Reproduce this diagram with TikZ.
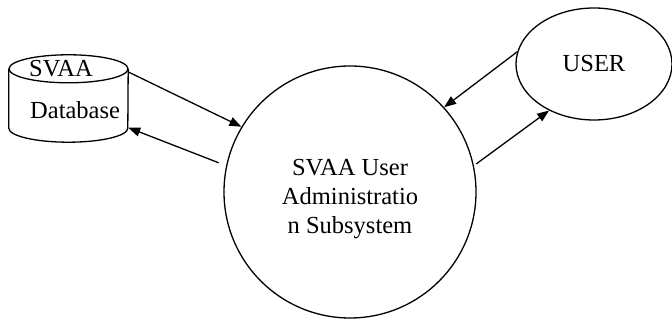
\documentclass[tikz,border=0pt]{standalone}
\usepackage{fontspec}
\setmainfont{Liberation Serif}
\usepackage{tikz}
\usetikzlibrary{positioning, calc, shapes.geometric, arrows.meta}

\begin{document}
\begin{tikzpicture}[x=1pt, y=1pt,
        every node/.style={font=\fontsize{24.5}{29}\selectfont},
        flow/.style={line width=1.3pt, -{Triangle[length=12pt, width=9pt]}},
        outline/.style={line width=1.3pt},
        store/.style={minimum width=119pt, minimum height=87pt, inner sep=0pt},
        process/.style={circle, draw, outline, minimum size=252pt, inner sep=0pt},
        agent/.style={ellipse, draw, outline, minimum width=156pt,
            minimum height=112pt, inner sep=0pt},
    ]
    \useasboundingbox (0,0) rectangle (672,320);

    % data store
    \node [store] (db) at (68.5,221.5) {};
    \draw [outline] ($(db.north west)+(0,-14)$) -- ($(db.south west)+(0,14)$)
        arc [start angle=180, end angle=360, x radius=59.5, y radius=14]
        -- ($(db.north east)+(0,-14)$);
    \draw [outline] ($(db.north)+(0,-14)$) ellipse [x radius=59.5, y radius=14];
    \node [anchor=base west, inner sep=0pt] (dbtop) at (29,243) {SVAA};
    \node [anchor=base west, inner sep=0pt] (dbname) at (30,201) {Database};

    % the subsystem and its user
    \node [process] (sys) at (350,128) {};
    \node [align=center, inner sep=0pt] (systext) at (350,121)
        {SVAA User\\Administratio\\n Subsystem};
    \node [agent] (user) at (594,256) {};
    \node (usertext) at (user.center) {USER};

    % flows
    \draw [flow] (db.24) -- (sys.149);
    \draw [flow, shorten <=8pt] (sys.168) -- (db.-26);
    \draw [flow] (user.171) -- (sys.42);
    \draw [flow, shorten <=3pt] (sys.12) -- (user.226);
\end{tikzpicture}
\end{document}
